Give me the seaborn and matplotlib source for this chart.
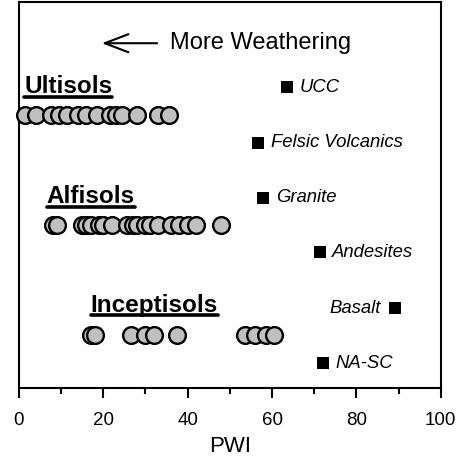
import numpy as np
import pandas as pd
import matplotlib
matplotlib.use("Agg")
import matplotlib.pyplot as plt
from matplotlib.lines import Line2D
from matplotlib.ticker import MultipleLocator
import seaborn as sns

# ---- data ----
ultisols = [1.5, 4, 7.5, 9.5, 11.5, 14, 16, 18.5, 21.5, 23, 24.5, 28, 33, 35.5]
alfisols = [8, 9, 15, 16, 17, 19, 20, 22, 25.5, 27, 28, 30, 31, 33, 36, 38, 40, 42, 48]
inceptisols = [17, 18, 26.5, 30, 32, 37.5, 53.5, 56, 58.5, 60.5]
soil_names = ["Ultisols", "Alfisols", "Inceptisols"]
soil_rows = [9.9, 5.9, 1.92]
soil_label_x = [1.2, 6.6, 17.0]
soil_label_y = [10.92, 6.93, 3.0]

ref_names = ["UCC", "Felsic Volcanics", "Granite", "Andesites", "Basalt", "NA-SC"]
ref_pwi = [63.6, 56.7, 57.9, 71.3, 89.1, 72.1]
ref_rows = [10.9, 8.9, 6.9, 4.93, 2.9, 0.9]
ref_label_side = ["right", "right", "right", "right", "left", "right"]

xticks = [0, 20, 40, 60, 80, 100]

sns.set_style("ticks")
plt.rcParams["font.family"] = ["Liberation Sans", "DejaVu Sans"]
plt.rcParams["text.color"] = "black"
plt.rcParams["axes.labelcolor"] = "black"
plt.rcParams["xtick.color"] = "black"
plt.rcParams["xtick.labelcolor"] = "black"

soil_df = pd.DataFrame({
    "PWI": ultisols + alfisols + inceptisols,
    "row": [soil_rows[0]] * len(ultisols) + [soil_rows[1]] * len(alfisols) + [soil_rows[2]] * len(inceptisols),
})
ref_df = pd.DataFrame({"PWI": ref_pwi, "row": ref_rows, "name": ref_names})

fig = plt.figure(figsize=(4.62, 4.63), dpi=100)
ax = fig.add_axes([0.041, 0.162, 0.913, 0.834])

sns.scatterplot(data=soil_df, x="PWI", y="row", ax=ax, s=145, color="#c0c0c0",
                edgecolor="black", linewidth=1.7, zorder=3, legend=False, clip_on=False)
sns.scatterplot(data=ref_df, x="PWI", y="row", ax=ax, s=78, marker="s", color="black",
                edgecolor="black", linewidth=0, zorder=3, legend=False)

for name, x, y, side in zip(ref_names, ref_pwi, ref_rows, ref_label_side):
    if side == "right":
        ax.annotate(name, (x, y), xytext=(9, 0), textcoords="offset points",
                    ha="left", va="center", fontsize=13.3, style="italic", color="black")
    else:
        ax.annotate(name, (x, y), xytext=(-10, 0), textcoords="offset points",
                    ha="right", va="center", fontsize=13.3, style="italic", color="black")

soil_texts = []
for name, x, y in zip(soil_names, soil_label_x, soil_label_y):
    t = ax.text(x, y, name, ha="left", va="center", fontsize=17.5, fontweight="bold", color="black")
    soil_texts.append(t)

# arrow + text
ax.annotate("", xy=(19.0, 12.5), xytext=(33.4, 12.5),
            arrowprops=dict(arrowstyle="->,head_length=1.7,head_width=0.65", lw=1.5, color="black"))
ax.text(35.8, 12.5, "More Weathering", ha="left", va="center", fontsize=17, color="black")

ax.set_xlim(0, 100)
ax.set_ylim(0, 14)
ax.set_xticks(xticks)
ax.set_xticklabels([str(v) for v in xticks], fontsize=13.5)
ax.xaxis.set_minor_locator(MultipleLocator(10))
ax.set_yticks([])
ax.tick_params(axis="x", which="major", direction="out", length=7, width=1.5, pad=10, color="black")
ax.tick_params(axis="x", which="minor", direction="out", length=4.5, width=1.5, color="black")
ax.set_xlabel("PWI", fontsize=16, labelpad=5)
ax.set_ylabel("")
for sp in ax.spines.values():
    sp.set_visible(True)
    sp.set_linewidth(1.5)
    sp.set_color("black")

# underline soil labels
fig.canvas.draw()
renderer = fig.canvas.get_renderer()
W, H = fig.bbox.width, fig.bbox.height
for t in soil_texts:
    bb = t.get_window_extent(renderer)
    yl = bb.y0 + 1.5
    fig.add_artist(Line2D([bb.x0 / W, bb.x1 / W], [yl / H, yl / H], lw=2.6, color="black"))

fig.savefig("out.png", dpi=100)
